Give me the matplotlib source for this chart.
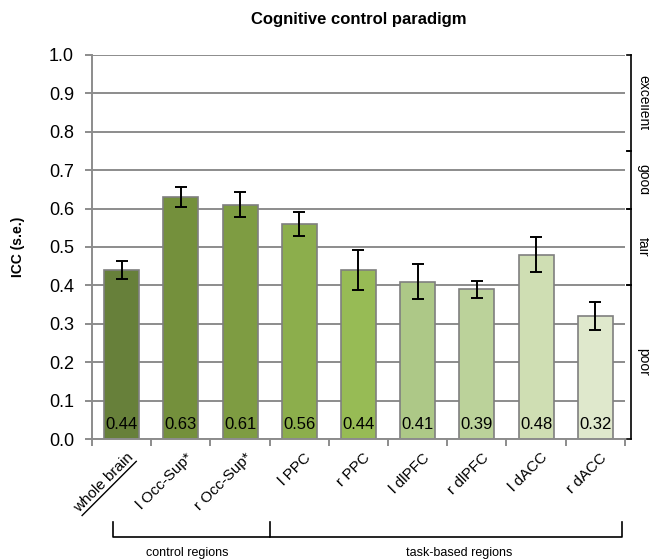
import numpy as np
import matplotlib.pyplot as plt

plt.rcParams["font.family"] = ["Liberation Sans", "DejaVu Sans"]

regions = ["whole brain", "l Occ-Sup*", "r Occ-Sup*", "l PPC", "r PPC",
           "l dlPFC", "r dlPFC", "l dACC", "r dACC"]
icc = [0.44, 0.63, 0.61, 0.56, 0.44, 0.41, 0.39, 0.48, 0.32]
se = [0.023, 0.027, 0.033, 0.031, 0.052, 0.045, 0.022, 0.045, 0.036]
colors = ["#67803a", "#74903c", "#7e9c42", "#8cae4c", "#97bb55",
          "#adc887", "#bbd29a", "#cfdeb3", "#dfe8cc"]

# reliability bands on the right edge: (low, high, label)
bands = [(0.75, 1.0, "excellent"), (0.6, 0.75, "good"),
         (0.4, 0.6, "fair"), (0.0, 0.4, "poor")]

grey = "#8c8c8c"
fig = plt.figure(figsize=(6.49, 5.60), dpi=100)
ax = fig.add_axes([0.1418, 0.216, 0.821, 0.686])

x = np.arange(len(regions))
ax.set_axisbelow(True)
ax.yaxis.grid(True, color=grey, linewidth=1.4)
ax.bar(x, icc, width=0.59, color=colors, edgecolor="#7f7f7f", linewidth=1.2)
ax.errorbar(x, icc, yerr=se, fmt="none", ecolor="black", elinewidth=1.4,
            capsize=4, capthick=1.4)
for xi, v in zip(x, icc):
    ax.text(xi, 0.039, f"{v:.2f}", ha="center", va="center", fontsize=12)

ax.set_xlim(-0.5, len(regions) - 0.5)
ax.set_ylim(0, 1.0)
ax.set_yticks(np.arange(0, 1.01, 0.1))
ax.set_yticklabels([f"{t:.1f}" for t in np.arange(0, 1.01, 0.1)], fontsize=13)
ax.tick_params(axis="y", length=5, width=1.4, color=grey, pad=8)
ax.set_xticks(np.arange(-0.5, len(regions), 1.0))
ax.set_xticklabels([])
ax.tick_params(axis="x", length=5, width=1.4, color=grey, direction="out")
for side in ["top", "right"]:
    ax.spines[side].set_visible(False)
for side in ["left", "bottom"]:
    ax.spines[side].set_color(grey)
    ax.spines[side].set_linewidth(1.4)

# category names, rotated
labels = []
for xi, name in zip(x, regions):
    t = ax.text(xi + 0.08, -0.03, name, rotation=45, ha="right", va="top",
                fontsize=11, rotation_mode="anchor")
    labels.append(t)

ax.set_title("Cognitive control paradigm", fontsize=12, fontweight="bold", pad=22)
fig.text(0.028, 0.56, "ICC (s.e.)", rotation=90, ha="center", va="center",
         fontsize=10, fontweight="bold")

# right-hand brackets for reliability bands
bx = len(regions) - 0.5 + 0.11
tick = 0.08
ax.plot([bx, bx], [0, 1.0], color="black", lw=1.2, clip_on=False)
for lo, hi, name in bands:
    for yv in (lo, hi):
        ax.plot([bx - tick, bx], [yv, yv], color="black", lw=1.2, clip_on=False)
    ax.text(bx + 0.2, (lo + hi) / 2, name, rotation=-90, ha="center",
            va="center", fontsize=10)

# bottom brackets for region groups
yb = -0.255
yt = -0.215
ax.plot([-0.15, -0.15, 2.5, 2.5], [yt, yb, yb, yt], color="black", lw=1.2,
        clip_on=False)
ax.plot([2.5, 8.45, 8.45], [yb, yb, yt], color="black", lw=1.2, clip_on=False)
ax.text(1.1, -0.297, "control regions", ha="center", va="center", fontsize=9)
ax.text(5.7, -0.297, "task-based regions", ha="center", va="center", fontsize=9)

# underline "whole brain"
fig.canvas.draw()
r = fig.canvas.get_renderer()
bb = labels[0].get_window_extent(r)
h = 11 * 100 / 72 * 1.0
d = h / np.sqrt(2)
inv = fig.transFigure.inverted()
p0 = inv.transform((bb.x0 + d, bb.y0))
p1 = inv.transform((bb.x1, bb.y1 - d))
fig.lines.append(plt.Line2D([p0[0], p1[0]], [p0[1], p1[1]], color="black",
                            lw=1.0, transform=fig.transFigure))

fig.savefig("out.png", dpi=100)
